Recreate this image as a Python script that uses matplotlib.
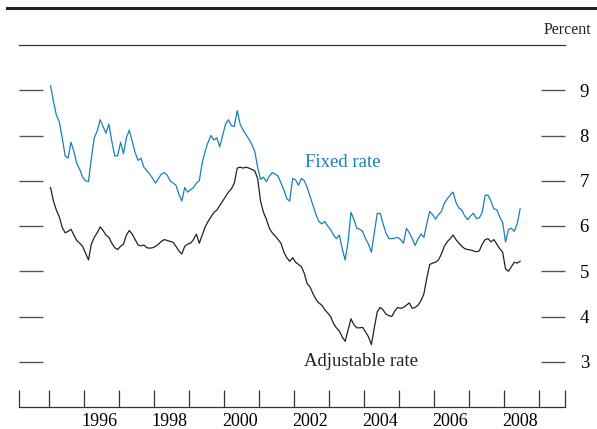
import numpy as np
import matplotlib
matplotlib.use('Agg')
import matplotlib.pyplot as plt
from matplotlib.lines import Line2D

plt.rcParams['font.family'] = 'Liberation Serif'

# Monthly values, Jan 1995 - Jun 2008 (percent)
fixed_rate = [
    9.10, 8.75, 8.45, 8.30, 7.95, 7.55, 7.50, 7.85, 7.65, 7.38, 7.25, 7.08,  # 1995
    7.00, 6.98, 7.50, 7.95, 8.10, 8.35, 8.20, 8.05, 8.25, 7.87, 7.55, 7.55,  # 1996
    7.85, 7.60, 7.95, 8.12, 7.87, 7.62, 7.45, 7.50, 7.30, 7.22, 7.15, 7.05,  # 1997
    6.95, 7.05, 7.15, 7.18, 7.12, 7.00, 6.95, 6.90, 6.70, 6.55, 6.85, 6.75,  # 1998
    6.80, 6.85, 6.95, 7.00, 7.40, 7.65, 7.85, 8.00, 7.90, 7.95, 7.75, 8.00,  # 1999
    8.25, 8.35, 8.22, 8.20, 8.55, 8.25, 8.12, 8.02, 7.92, 7.80, 7.65, 7.30,  # 2000
    7.03, 7.08, 6.98, 7.10, 7.18, 7.15, 7.10, 6.95, 6.80, 6.60, 6.55, 7.05,  # 2001
    7.02, 6.90, 7.05, 7.00, 6.85, 6.65, 6.45, 6.25, 6.10, 6.05, 6.10, 6.00,  # 2002
    5.92, 5.80, 5.72, 5.80, 5.50, 5.25, 5.65, 6.30, 6.15, 5.95, 5.93, 5.88,  # 2003
    5.72, 5.60, 5.42, 5.85, 6.28, 6.28, 6.05, 5.85, 5.72, 5.72, 5.73, 5.75,  # 2004
    5.70, 5.62, 5.95, 5.85, 5.72, 5.57, 5.72, 5.82, 5.75, 6.05, 6.32, 6.25,  # 2005
    6.15, 6.25, 6.32, 6.50, 6.60, 6.68, 6.75, 6.52, 6.40, 6.35, 6.22, 6.14,  # 2006
    6.22, 6.28, 6.16, 6.18, 6.30, 6.68, 6.68, 6.55, 6.38, 6.36, 6.20, 6.08,  # 2007
    5.65, 5.92, 5.95, 5.88, 6.05, 6.38,                                      # 2008
]

adjustable_rate = [
    6.85, 6.55, 6.35, 6.20, 5.97, 5.85, 5.88, 5.93, 5.80, 5.68, 5.62, 5.55,  # 1995
    5.40, 5.25, 5.60, 5.75, 5.85, 5.98, 5.90, 5.80, 5.75, 5.62, 5.52, 5.48,  # 1996
    5.55, 5.60, 5.80, 5.90, 5.82, 5.70, 5.58, 5.56, 5.58, 5.52, 5.51, 5.52,  # 1997
    5.55, 5.60, 5.66, 5.70, 5.68, 5.66, 5.64, 5.55, 5.45, 5.38, 5.55, 5.60,  # 1998
    5.62, 5.70, 5.82, 5.62, 5.80, 5.98, 6.10, 6.20, 6.30, 6.35, 6.45, 6.55,  # 1999
    6.65, 6.75, 6.82, 6.95, 7.28, 7.30, 7.28, 7.30, 7.28, 7.25, 7.22, 7.05,  # 2000
    6.55, 6.30, 6.15, 5.95, 5.85, 5.78, 5.70, 5.62, 5.42, 5.30, 5.22, 5.30,  # 2001
    5.20, 5.15, 5.10, 4.95, 4.72, 4.65, 4.50, 4.38, 4.30, 4.25, 4.15, 4.08,  # 2002
    4.00, 3.85, 3.75, 3.68, 3.55, 3.45, 3.70, 3.95, 3.82, 3.75, 3.75, 3.76,  # 2003
    3.66, 3.55, 3.38, 3.75, 4.10, 4.20, 4.15, 4.05, 4.02, 4.00, 4.12, 4.20,  # 2004
    4.18, 4.20, 4.25, 4.30, 4.18, 4.20, 4.25, 4.35, 4.50, 4.85, 5.15, 5.18,  # 2005
    5.20, 5.25, 5.38, 5.55, 5.65, 5.72, 5.80, 5.70, 5.62, 5.55, 5.50, 5.48,  # 2006
    5.47, 5.45, 5.43, 5.45, 5.60, 5.70, 5.72, 5.65, 5.70, 5.60, 5.50, 5.42,  # 2007
    5.05, 5.00, 5.10, 5.20, 5.18, 5.22,                                      # 2008
]

start_year = 1995
year_ticks = list(range(1995, 2010))
year_labels = ['1996', '1998', '2000', '2002', '2004', '2006', '2008']
y_ticks = [3, 4, 5, 6, 7, 8, 9]

blue = '#1a7fb8'
dark = '#222222'
tick_gray = '#555555'

t = start_year + (np.arange(len(fixed_rate)) + 0.5) / 12.0

fig = plt.figure(figsize=(5.97, 4.29), dpi=100)
ax = fig.add_axes([19 / 597, 1 - 407 / 429, 546 / 597, 362 / 429])

ax.plot(t, fixed_rate, color=blue, lw=0.9)
ax.plot(t, adjustable_rate, color=dark, lw=0.9)

x0, x1 = 1994.14, 2009.74
ax.set_xlim(x0, x1)
ax.set_ylim(2, 10)

for side in ['left', 'right']:
    ax.spines[side].set_visible(False)
for side in ['top', 'bottom']:
    ax.spines[side].set_linewidth(0.9)
    ax.spines[side].set_color('#333333')

# x axis: year boundaries as ticks, labels centred in the even years
ax.set_xticks([x0] + year_ticks + [x1])
ax.set_xticklabels([])
ax.set_xticks([int(y) + 0.45 for y in year_labels], minor=True)
ax.set_xticklabels(year_labels, minor=True)
ax.tick_params(axis='x', which='major', direction='in', length=12.3,
               width=0.9, color='#333333')
ax.tick_params(axis='x', which='minor', length=0, pad=4, labelsize=13)

# y axis: ticks on both sides, labels on the right
ax.set_yticks(y_ticks)
ax.set_yticklabels([str(v) for v in y_ticks])
ax.tick_params(axis='y', direction='in', length=17, width=1.0,
               color=tick_gray, left=True, right=True,
               labelleft=False, labelright=True, pad=10.5, labelsize=13.5)

ax.text(2003.4, 7.4, 'Fixed rate', color=blue, fontsize=13.5,
        ha='center', va='center')
ax.text(2003.9, 3.0, 'Adjustable rate', color=dark, fontsize=13.5,
        ha='center', va='center')

fig.text(591 / 597, 1 - 30 / 429, 'Percent', fontsize=11.5,
         ha='right', va='center', color=dark)

# thick rule across the top
fig.add_artist(Line2D([7 / 597, 1.0], [1 - 7.5 / 429, 1 - 7.5 / 429],
                      transform=fig.transFigure, color='#222222', lw=2.2))

fig.savefig('out.png', dpi=100)
